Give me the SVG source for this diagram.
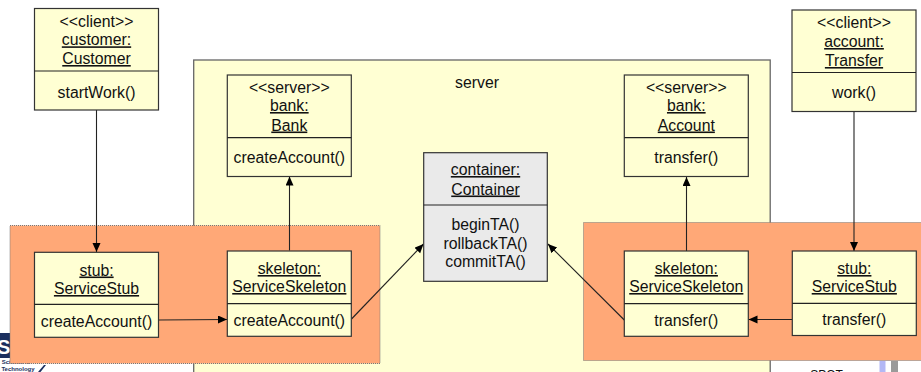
<svg xmlns="http://www.w3.org/2000/svg" width="921" height="372" viewBox="0 0 921 372">
<style>
text{font-family:"Liberation Sans",Arial,sans-serif;font-size:15.8px;fill:#111;text-anchor:middle}
.u{text-decoration:underline}
.box{fill:#FFFFD3;stroke:#333;stroke-width:1.2}
.grey{fill:#EAEAEA}
.div{stroke:#222;stroke-width:1.2;fill:none}
.zone{fill:#FFA877;stroke:#777;stroke-width:1;stroke-dasharray:1 1}
.c{stroke:#222;stroke-width:1.1;fill:none;marker-end:url(#a)}
</style>
<defs>
<marker id="a" markerUnits="userSpaceOnUse" markerWidth="10" markerHeight="10" refX="9" refY="4" orient="auto"><path d="M0 0L9 4L0 8Z" fill="#000"/></marker>
</defs>
<rect width="921" height="372" fill="#fff"/>
<g id="logo">
<rect x="0" y="333" width="10" height="25" fill="#1B2F5E"/>
<text x="-3" y="354" style="font-size:20px;font-weight:bold;fill:#fff;text-anchor:start">S</text>
<text x="16" y="364" style="font-size:6px;font-weight:bold;fill:#1B2F5E">Science &amp;</text>
<text x="18" y="371" style="font-size:6px;font-weight:bold;fill:#1B2F5E">Technology</text>
<path d="M44 365L38 372H40.500L46 365Z" fill="#1B2F5E"/>
</g>
<g id="footer">
<rect x="879.500" y="361" width="6" height="11" fill="#B3B8F5"/>
<rect x="891" y="361" width="7" height="11" fill="#9A9A9A"/>
<text x="826.500" y="378.500" style="font-size:12px">SPOT</text>
</g>
<g id="server">
<rect x="193.700" y="60" width="576.500" height="330" fill="#FFFFD3" stroke="#666" stroke-width="1.300"/>
<text x="477" y="88">server</text>
</g>
<g id="zone-left"><rect class="zone" x="10" y="225.500" width="370" height="138"/></g>
<g id="zone-right"><rect class="zone" x="583.500" y="222.500" width="345" height="138"/></g>
<g id="connectors">
<path class="c" d="M96.500 110V252"/>
<path class="c" d="M289.500 250.500V176.500"/>
<path class="c" d="M686.500 251V177"/>
<path class="c" d="M854 111.500V251"/>
<path class="c" d="M158.500 320L227 319.500"/>
<path class="c" d="M351.500 319L423.500 244"/>
<path class="c" d="M624.300 320L548 244"/>
<path class="c" d="M792 319.500H748.500"/>
</g>
<g id="customer">
<rect class="box" x="34.500" y="8.500" width="124" height="101.500"/><path class="div" d="M34.500 71H158.500"/>
<text x="96.500" y="26.700">&lt;&lt;client&gt;&gt;</text><text class="u" x="96.500" y="45.300">customer:</text><text class="u" x="96.500" y="64">Customer</text><text x="96.500" y="97.500">startWork()</text>
</g>
<g id="bank">
<rect class="box" x="227.300" y="75" width="124" height="101.500"/><path class="div" d="M227.300 137.700H351.300"/>
<text x="289.300" y="92.500">&lt;&lt;server&gt;&gt;</text><text class="u" x="289.300" y="111">bank:</text><text class="u" x="289.300" y="130.500">Bank</text><text x="289.300" y="163">createAccount()</text>
</g>
<g id="account">
<rect class="box" x="624.300" y="75" width="124" height="101.500"/><path class="div" d="M624.300 137.700H748.300"/>
<text x="686.300" y="92.500">&lt;&lt;server&gt;&gt;</text><text class="u" x="686.300" y="111">bank:</text><text class="u" x="686.300" y="130.500">Account</text><text x="686.300" y="163">transfer()</text>
</g>
<g id="transfer-client">
<rect class="box" x="792" y="10" width="124" height="101.500"/><path class="div" d="M792 72.500H916"/>
<text x="854" y="28">&lt;&lt;client&gt;&gt;</text><text class="u" x="854" y="47">account:</text><text class="u" x="854" y="66">Transfer</text><text x="854" y="98">work()</text>
</g>
<g id="container">
<rect class="box grey" x="423.700" y="152.700" width="123.600" height="128.600"/><path class="div" d="M423.700 205H547.300"/>
<text class="u" x="485.500" y="175">container:</text><text class="u" x="485.500" y="194.500">Container</text><text x="485.500" y="230">beginTA()</text><text x="485.500" y="249">rollbackTA()</text><text x="485.500" y="267">commitTA()</text>
</g>
<g id="stub-left">
<rect class="box" x="34.500" y="252.300" width="124" height="85"/><path class="div" d="M34.500 304.300H158.500"/>
<text class="u" x="96.500" y="275.500">stub:</text><text class="u" x="96.500" y="294">ServiceStub</text><text x="96.500" y="326.500">createAccount()</text>
</g>
<g id="skeleton-left">
<rect class="box" x="227.300" y="251" width="124" height="85.300"/><path class="div" d="M227.300 303.700H351.300"/>
<text class="u" x="289.300" y="274">skeleton:</text><text class="u" x="289.300" y="292">ServiceSkeleton</text><text x="289.300" y="325.500">createAccount()</text>
</g>
<g id="skeleton-right">
<rect class="box" x="624.300" y="251" width="124" height="85.300"/><path class="div" d="M624.300 303.700H748.300"/>
<text class="u" x="686.300" y="274">skeleton:</text><text class="u" x="686.300" y="292">ServiceSkeleton</text><text x="686.300" y="325.500">transfer()</text>
</g>
<g id="stub-right">
<rect class="box" x="792.300" y="251" width="124" height="84.500"/><path class="div" d="M792.300 303.300H916.300"/>
<text class="u" x="854.300" y="274">stub:</text><text class="u" x="854.300" y="292">ServiceStub</text><text x="854.300" y="325">transfer()</text>
</g>
</svg>
